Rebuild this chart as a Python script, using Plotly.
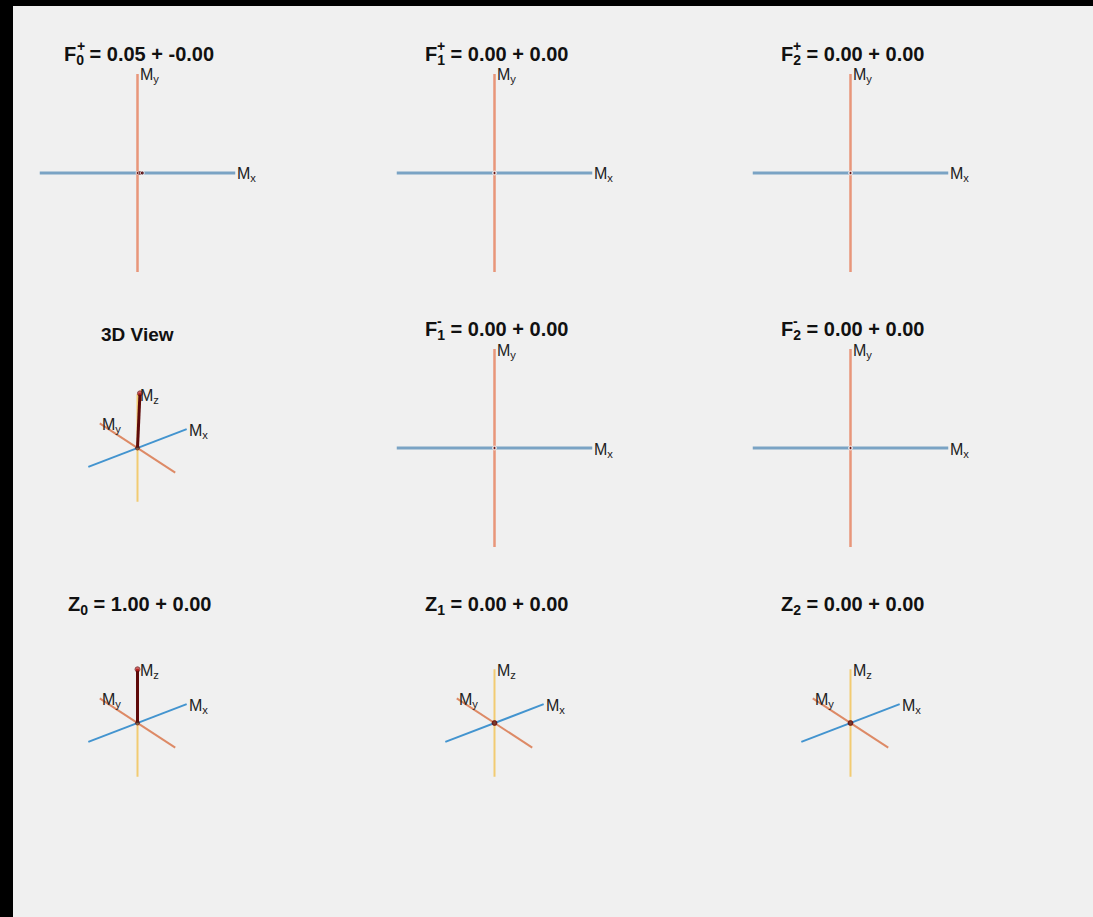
import numpy as np
import plotly.graph_objects as go

W, H = 1093, 917

# EPG configuration states (real, imaginary parts) for orders 0..2
f_plus_re = [0.05, 0.00, 0.00]
f_plus_im = [-0.00, 0.00, 0.00]
f_minus_re = [0.00, 0.00]          # orders 1 and 2
f_minus_im = [0.00, 0.00]
z_re = [1.00, 0.00, 0.00]
z_im = [0.00, 0.00, 0.00]

# extent of the drawn magnetisation axes
axis_lim = [-1.0, 1.0]

# default 3D viewing angles (degrees)
view_az, view_el = -37.5, 30.0

BG = "#f0f0f0"
C_MX = "#7aa3c4"
C_MY = "#e8967a"
C_MX3 = "#4394cf"
C_MY3 = "#dd8a66"
C_MZ3 = "#f2cb72"
C_VEC = "#5e0a0a"
C_TIP = "#c81e1e"
C_ORIGIN = "#4a3a30"
FONT = "Liberation Sans, Arial, Helvetica, sans-serif"
TITLE_SIZE = 20
LABEL_SIZE = 16

# Arial-bold advance widths (per 1000 em) used to place the stacked indices
ADV = {"F": 611, "Z": 611, ".": 278, " ": 278, "=": 584, "+": 584, "-": 333}
for d in "0123456789":
    ADV[d] = 556


def text_width(s, size):
    return sum(ADV.get(ch, 556) for ch in s) * size / 1000.0


# pixel layout of the 3x3 grid (origin of each panel)
col_cx = [137.5, 494.5, 850.5]
row_cy = [173, 448, 723]
row_title_y = [52, 327, 602]
half_w, half_h = 98, 99
px_per_unit_3d = 62.0
half_3d = 1.3

fig = go.Figure()
annotations = []


def px_x(x):
    return x / W


def px_y(y):
    return 1 - y / H


def project(x, y, z):
    """Orthographic projection for the given azimuth / elevation."""
    a, e = np.deg2rad(view_az), np.deg2rad(view_el)
    x, y, z = (np.asarray(v, dtype=float) for v in (x, y, z))
    sx = np.cos(a) * x + np.sin(a) * y
    sy = -np.sin(e) * np.sin(a) * x + np.sin(e) * np.cos(a) * y + np.cos(e) * z
    return sx, sy


def add_title(cx, ty, letter, idx, sup, re, im):
    rest = f" = {re:.2f} + {im:.2f}"
    width = text_width(letter, TITLE_SIZE) + 0.7 * text_width(str(idx), TITLE_SIZE) + text_width(rest, TITLE_SIZE)
    left = cx - width / 2
    annotations.append(dict(
        xref="paper", yref="paper", x=px_x(left), y=px_y(ty), xanchor="left", yanchor="middle",
        text=f"<b>{letter}<sub>{idx}</sub>{rest}</b>", showarrow=False,
        font=dict(family=FONT, size=TITLE_SIZE, color="#111111"), yshift=-3))
    if sup:
        annotations.append(dict(
            xref="paper", yref="paper", x=px_x(left + text_width(letter, TITLE_SIZE)), y=px_y(ty - 6),
            xanchor="left", yanchor="middle", text=f"<b>{sup}</b>", showarrow=False,
            font=dict(family=FONT, size=14, color="#111111")))


def axis_refs(n):
    return ("x" if n == 1 else f"x{n}"), ("y" if n == 1 else f"y{n}")


def set_axes(n, cx, cy, hw, hh, xr_range, yr_range):
    xr, yr = axis_refs(n)
    fig.update_layout(**{
        f"xaxis{n}": dict(domain=[px_x(cx - hw), px_x(cx + hw)], range=xr_range, visible=False,
                          fixedrange=True, anchor=yr),
        f"yaxis{n}": dict(domain=[px_y(cy + hh), px_y(cy - hh)], range=yr_range, visible=False,
                          fixedrange=True, anchor=xr),
    })
    return xr, yr


def label(xr, yr, x, y, sub, xshift=0, yshift=-2):
    annotations.append(dict(xref=xr, yref=yr, x=x, y=y, xanchor="left", yanchor="middle",
                            text=f"M<sub>{sub}</sub>", showarrow=False, xshift=xshift, yshift=yshift,
                            font=dict(family=FONT, size=LABEL_SIZE, color="#222222")))


def add_2d_panel(n, cx, cy, re, im):
    xr, yr = set_axes(n, cx, cy, half_w, half_h, axis_lim, axis_lim)
    fig.add_trace(go.Scatter(x=axis_lim, y=[0, 0], mode="lines", line=dict(color=C_MX, width=3),
                             xaxis=xr, yaxis=yr, hoverinfo="skip"))
    fig.add_trace(go.Scatter(x=[0, 0], y=axis_lim, mode="lines", line=dict(color=C_MY, width=2.5),
                             xaxis=xr, yaxis=yr, hoverinfo="skip"))
    fig.add_trace(go.Scatter(x=[re, 0], y=[im, 0], mode="lines+markers",
                             line=dict(color=C_VEC, width=3), marker=dict(color=C_VEC, size=[4, 3]),
                             xaxis=xr, yaxis=yr, hoverinfo="skip"))
    label(xr, yr, axis_lim[1], 0, "x", xshift=-1)
    label(xr, yr, 0, axis_lim[1], "y")


def add_3d_panel(n, cx, cy, vec):
    hw = half_3d * px_per_unit_3d
    rng = [-half_3d, half_3d]
    xr, yr = set_axes(n, cx, cy, hw, hw, rng, rng)
    zero = [0, 0]
    for xs, ys, zs, col in ((axis_lim, zero, zero, C_MX3),
                            (zero, axis_lim, zero, C_MY3),
                            (zero, zero, axis_lim, C_MZ3)):
        sx, sy = project(xs, ys, zs)
        fig.add_trace(go.Scatter(x=sx, y=sy, mode="lines", line=dict(color=col, width=2),
                                 xaxis=xr, yaxis=yr, hoverinfo="skip"))
    # vector: tip first so the origin dot sits on top
    sx, sy = project([vec[0], 0], [vec[1], 0], [vec[2], 0])
    fig.add_trace(go.Scatter(x=sx, y=sy, mode="lines+markers", line=dict(color=C_VEC, width=3),
                             marker=dict(color=[C_TIP, C_ORIGIN], size=[5, 4]),
                             xaxis=xr, yaxis=yr, hoverinfo="skip"))
    for xs, ys, zs, sub in ((axis_lim[1], 0, 0, "x"), (0, axis_lim[1], 0, "y"), (0, 0, axis_lim[1], "z")):
        lx, ly = project(xs, ys, zs)
        label(xr, yr, float(lx), float(ly), sub)


# rows 1 and 2: transverse states drawn in the Mx/My plane
n = 1
for k in range(3):
    add_2d_panel(n, col_cx[k], row_cy[0], f_plus_re[k], f_plus_im[k])
    add_title(col_cx[k], row_title_y[0], "F", k, "+", f_plus_re[k], f_plus_im[k])
    n += 1
for k in range(1, 3):
    add_2d_panel(n, col_cx[k], row_cy[1], f_minus_re[k - 1], f_minus_im[k - 1])
    add_title(col_cx[k], row_title_y[1], "F", k, "-", f_minus_re[k - 1], f_minus_im[k - 1])
    n += 1

# overall magnetisation vector in 3D
m_vec = (f_plus_re[0], f_plus_im[0], z_re[0])
add_3d_panel(n, col_cx[0], row_cy[1], m_vec)
n += 1
annotations.append(dict(xref="paper", yref="paper", x=px_x(col_cx[0]), y=px_y(335), xanchor="center",
                        yanchor="middle", text="<b>3D View</b>", showarrow=False,
                        font=dict(family=FONT, size=TITLE_SIZE - 1, color="#111111")))

# longitudinal states
for k in range(3):
    add_3d_panel(n, col_cx[k], row_cy[2], (0.0, 0.0, z_re[k]))
    add_title(col_cx[k], row_title_y[2], "Z", k, None, z_re[k], z_im[k])
    n += 1

fig.update_layout(
    width=W, height=H, autosize=False, margin=dict(l=0, r=0, t=0, b=0),
    paper_bgcolor="#000000", plot_bgcolor="rgba(0,0,0,0)", showlegend=False,
    annotations=annotations,
    shapes=[dict(type="rect", xref="paper", yref="paper", x0=13 / W, x1=1, y0=0, y1=1 - 6 / H,
                 fillcolor=BG, line=dict(width=0), layer="below")],
)

fig.write_html("out.html", config=dict(displayModeBar=False, staticPlot=True))
